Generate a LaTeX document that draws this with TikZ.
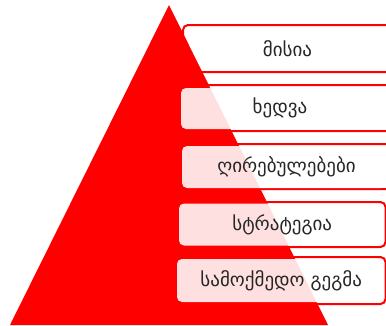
\documentclass[tikz,border=0pt]{standalone}
\usepackage{fontspec}
\setmainfont{DejaVu Sans}
\usepackage{xcolor}
\usepackage{tikz}
\usetikzlibrary{positioning}

\begin{document}
\begin{tikzpicture}[
  x=1pt, y=-1pt,
  outline/.style={draw=red, line width=2pt, fill=white, rounded corners=5pt, inner sep=0pt},
  cover/.style={fill=white, fill opacity=0.88, rounded corners=5pt, inner sep=0pt},
  label/.style={font=\fontsize{19}{22}\selectfont, text=black!85}
]
\useasboundingbox (0,0) rectangle (386,325);

% framed strips behind the pyramid
\node[outline, minimum width=209pt, minimum height=47pt] (box1) at (287.5,48.5) {};
\node[outline, minimum width=210pt, minimum height=46pt] (box2) at (287,108) {};
\node[outline, minimum width=211pt, minimum height=45pt] (box3) at (286.5,166.5) {};
\node[outline, minimum width=206.5pt, minimum height=45pt] (box4) at (282.25,224.5) {};
\node[outline, minimum width=208.5pt, minimum height=47pt] (box5) at (281.25,280.5) {};

% the pyramid
\fill[red] (169,5) -- (10,325) -- (328,325) -- cycle;

% light panels over the pyramid
\node[cover, minimum width=202pt, minimum height=41pt] (cover2) at (282,108.5) {};
\node[cover, minimum width=204pt, minimum height=42pt] (cover3) at (284,167) {};
\node[cover, minimum width=201pt, minimum height=42pt] (cover4) at (279.5,224.5) {};
\node[cover, minimum width=203pt, minimum height=43pt] (cover5) at (278.5,280.5) {};

\node[label] (lab1) at (box1.center) {მისია};
\node[label] (lab2) at (280,108) {ხედვა};
\node[label] (lab3) at (box3.center) {ღირებულებები};
\node[label] (lab4) at (box4.center) {სტრატეგია};
\node[label] (lab5) at (box5.center) {სამოქმედო გეგმა};
\end{tikzpicture}
\end{document}
